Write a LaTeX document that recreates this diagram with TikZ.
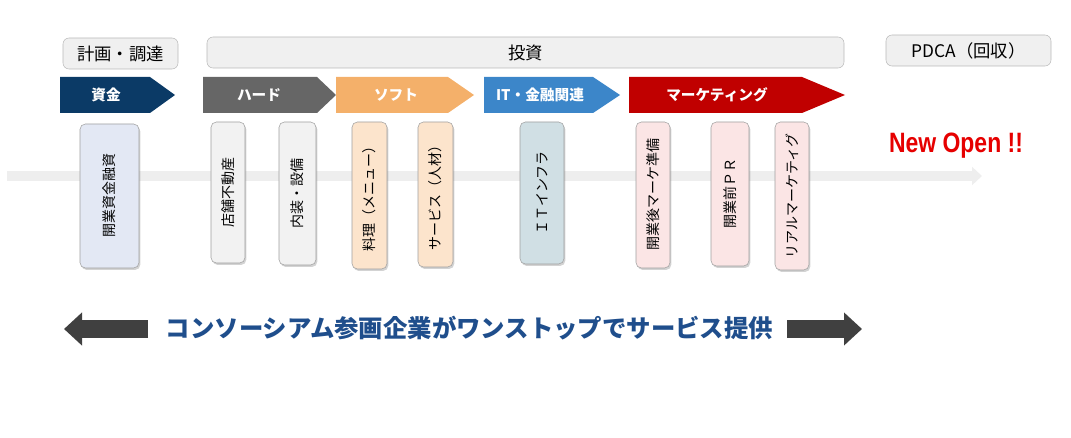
\documentclass[tikz,border=0pt]{standalone}
\usepackage{fontspec}
\setmainfont{Liberation Sans}
\newfontfamily\jp{Noto Sans CJK JP}
\usepackage{tikz}
\usetikzlibrary{arrows.meta,shadows}

\definecolor{navy}{HTML}{0B3A66}
\definecolor{hardgray}{HTML}{666666}
\definecolor{softorange}{HTML}{F4B06A}
\definecolor{itblue}{HTML}{3C86C9}
\definecolor{mktred}{HTML}{C00000}
\definecolor{fundfill}{HTML}{E3E8F4}
\definecolor{hardfill}{HTML}{F2F2F2}
\definecolor{softfill}{HTML}{FCE4CC}
\definecolor{itfill}{HTML}{D0DFE4}
\definecolor{mktfill}{HTML}{FBE5E5}
\definecolor{onestopblue}{HTML}{1F4E8C}
\definecolor{openred}{HTML}{E60000}

\begin{document}
\begin{tikzpicture}[x=0.75pt, y=-0.75pt,
  topbox/.style={draw=gray!55, fill=gray!12, rounded corners=4.5pt, minimum height=23.25pt, inner sep=0pt, font=\jp\fontsize{13}{15}\selectfont},
  tag/.style={text=white, font=\jp\bfseries\fontsize{11}{13}\selectfont},
  card/.style={draw=gray!75, rounded corners=4pt, inner sep=0pt, drop shadow={shadow xshift=1pt, shadow yshift=-1.5pt, opacity=0.35}, font=\jp\fontsize{10.5}{12}\selectfont},
  flow/.style={line width=7.5pt, draw=gray!13, -{Triangle[length=7.5pt, width=13.5pt]}},
  bigarrow/.style={line width=13.5pt, draw=black!75, -{Triangle[length=13.5pt, width=24pt]}}
]
\useasboundingbox (0,0) rectangle (1071,438);

% phases on top
\node[topbox, minimum width=86.25pt] (plan) at (120.5,53.5) {計画・調達};
\node[topbox, minimum width=477.75pt] (invest) at (525.5,52.5) {投資};
\node[topbox, minimum width=123.75pt] (pdca) at (968.5,50.5) {PDCA（回収）};

% chevrons
\fill[navy] (60,77) -- (150,77) -- (175,95) -- (150,113) -- (60,113) -- cycle;
\fill[hardgray] (203,77) -- (317,77) -- (336,95) -- (317,113) -- (203,113) -- cycle;
\fill[softorange] (336,77) -- (448,77) -- (474,95) -- (448,113) -- (336,113) -- cycle;
\fill[itblue] (484,77) -- (593,77) -- (620,95) -- (593,113) -- (484,113) -- cycle;
\fill[mktred] (629,77) -- (802,77) -- (845,95) -- (802,113) -- (629,113) -- cycle;
\node[tag] (fund) at (106,95) {資金};
\node[tag] (hard) at (259,95) {ハード};
\node[tag] (soft) at (396,95) {ソフト};
\node[tag] (it) at (540,95) {IT・金融関連};
\node[tag] (mkt) at (717,95) {マーケティング};

% timeline
\coordinate (flowL) at (7,176);
\coordinate (flowR) at (982,176);
\draw[flow] (flowL) -- (flowR);

% cards
\node[card, fill=fundfill, minimum width=44.25pt, minimum height=108pt] (loan) at (109.5,196) {\rotatebox{90}{開業資金融資}};
\node[card, fill=hardfill, minimum width=25.5pt, minimum height=105.75pt] (store) at (228,192.5) {\rotatebox{90}{店舗不動産}};
\node[card, fill=hardfill, minimum width=27.75pt, minimum height=107.25pt] (interior) at (297.5,193.5) {\rotatebox{90}{内装・設備}};
\node[card, fill=softfill, minimum width=26.25pt, minimum height=110.25pt] (menu) at (369.5,195.5) {\rotatebox{90}{料理（メニュー）}};
\node[card, fill=softfill, minimum width=26.25pt, minimum height=108.75pt] (staff) at (435.5,194.5) {\rotatebox{90}{サービス（人材）}};
\node[card, fill=itfill, minimum width=33pt, minimum height=106.5pt] (infra) at (542,193) {\rotatebox{90}{ＩＴインフラ}};
\node[card, fill=mktfill, minimum width=25.5pt, minimum height=109.5pt] (after) at (653,195) {\rotatebox{90}{開業後マーケ準備}};
\node[card, fill=mktfill, minimum width=28.5pt, minimum height=108pt] (pr) at (730,194) {\rotatebox{90}{開業前ＰＲ}};
\node[card, fill=mktfill, minimum width=25.5pt, minimum height=111pt] (real) at (792,196) {\rotatebox{90}{リアルマーケティグ}};

\node[text=openred, font=\bfseries\fontsize{21}{24}\selectfont, xscale=0.82] (open) at (956,146) {New Open !!};

% one-stop service
\node[text=onestopblue, font=\jp\bfseries\fontsize{18.3}{22}\selectfont] (onestop) at (469.5,328) {コンソーシアム参画企業がワンストップでサービス提供};
\coordinate (leftA) at (148,329);
\coordinate (leftB) at (64,329);
\coordinate (rightA) at (787,329);
\coordinate (rightB) at (862,329);
\draw[bigarrow] (leftA) -- (leftB);
\draw[bigarrow] (rightA) -- (rightB);
\end{tikzpicture}
\end{document}
